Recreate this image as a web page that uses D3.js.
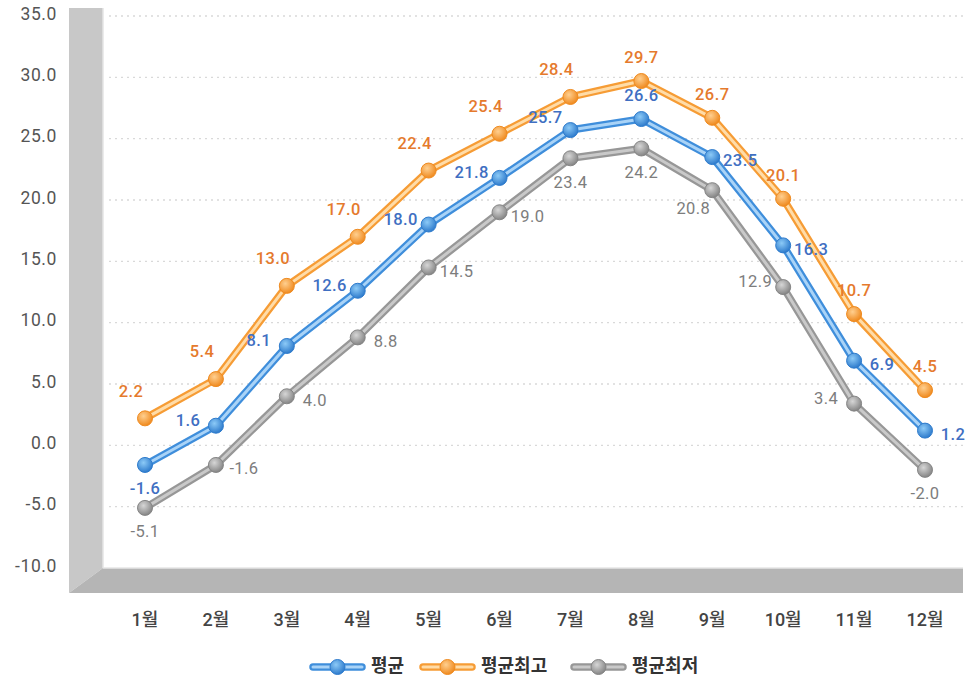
<!DOCTYPE html>
<html>
<head>
<meta charset="utf-8">
<script src="https://cdn.jsdelivr.net/npm/d3@7"></script>
<style>
  body { margin: 0; background: #fff; }
  svg { font-family: Roboto, "Noto Sans CJK KR", sans-serif; }
</style>
</head>
<body>
<div id="wrapper"></div>
<script>
// data
const months = ["1월", "2월", "3월", "4월", "5월", "6월", "7월", "8월", "9월", "10월", "11월", "12월"]
const avgTemp = [-1.6, 1.6, 8.1, 12.6, 18.0, 21.8, 25.7, 26.6, 23.5, 16.3, 6.9, 1.2]
const maxTemp = [2.2, 5.4, 13.0, 17.0, 22.4, 25.4, 28.4, 29.7, 26.7, 20.1, 10.7, 4.5]
const minTemp = [-5.1, -1.6, 4.0, 8.8, 14.5, 19.0, 23.4, 24.2, 20.8, 12.9, 3.4, -2.0]
const yTicks = [35, 30, 25, 20, 15, 10, 5, 0, -5, -10]
// where each value label sits relative to its point
const avgSide = ["b", "l", "l", "l", "l", "l", "lt", "t", "r", "r", "r", "r"]
const maxSide = ["tl", "tl", "tl", "tl", "tl", "tl", "tl", "t", "t", "t", "t", "t"]
const minSide = ["b", "r", "r", "r", "r", "r", "b", "b", "bl", "l", "l", "b"]

const series = [
    { name: "평균", values: avgTemp, side: avgSide, outer: "#3f8edb", inner: "#a9d3f7", c0: "#8ccaf7", c1: "#2e7bcc", label: "#3f6fc2", weight: 500 },
    { name: "평균최고", values: maxTemp, side: maxSide, outer: "#f69c35", inner: "#ffdca8", c0: "#ffcf8f", c1: "#ef8a1f", label: "#e57a2d", weight: 500 },
    { name: "평균최저", values: minTemp, side: minSide, outer: "#979797", inner: "#c9c9c9", c0: "#d6d6d6", c1: "#858585", label: "#7d7d7d", weight: 400 }
]

const offsets = {
    t: [0, -22], tl: [-14, -26], lt: [-25, -11], b: [0, 25],
    bl: [-19, 19], l: [-28, -4], r: [28, 5]
}

const width = 965, height = 681
const wallLeft = 69, plotLeft = 103, plotRight = 963, plotTop = 16, plotBottom = 568, floorBottom = 593

const svg = d3.select("#wrapper").append("svg")
    .attr("width", width)
    .attr("height", height)

const defs = svg.append("defs")
series.forEach((s, i) => {
    const g = defs.append("radialGradient").attr("id", "grad" + i)
        .attr("cx", "40%").attr("cy", "35%").attr("r", "65%")
    g.append("stop").attr("offset", "0%").attr("stop-color", s.c0)
    g.append("stop").attr("offset", "100%").attr("stop-color", s.c1)
})

const yScale = d3.scaleLinear().domain([-10, 35]).range([plotBottom, plotTop])
const xScale = d3.scalePoint().domain(months).range([145, 925])

// 3d wall and floor
svg.append("polygon")
    .attr("points", `${wallLeft},8 ${plotLeft},8 ${plotLeft},${plotBottom} ${wallLeft},${floorBottom}`)
    .attr("fill", "#c8c8c8")
svg.append("line")
    .attr("x1", plotLeft).attr("x2", plotLeft).attr("y1", 8).attr("y2", plotBottom)
    .attr("stroke", "#e4e4e4").attr("stroke-width", 1.5)
svg.append("polygon")
    .attr("points", `${wallLeft},${floorBottom} ${plotLeft},${plotBottom} ${plotRight},${plotBottom} ${plotRight},${floorBottom}`)
    .attr("fill", "#b5b5b5")
svg.append("line")
    .attr("x1", plotLeft).attr("x2", plotRight).attr("y1", plotBottom).attr("y2", plotBottom)
    .attr("stroke", "#e6e6e6").attr("stroke-width", 1.5)

// grid
svg.append("g").selectAll("line")
    .data(yTicks.filter(d => d > -10))
    .join("line")
    .attr("x1", plotLeft + 6).attr("x2", plotRight)
    .attr("y1", d => yScale(d)).attr("y2", d => yScale(d))
    .attr("stroke", "#d9d9d9")
    .attr("stroke-width", 1.3)
    .attr("stroke-dasharray", "2,4")

// y axis labels
svg.append("g").selectAll("text")
    .data(yTicks)
    .join("text")
    .attr("x", 57)
    .attr("y", d => yScale(d) - 1)
    .attr("text-anchor", "end")
    .attr("dominant-baseline", "middle")
    .attr("fill", "#555")
    .style("font-size", "17.5px")
    .style("letter-spacing", "0.6px")
    .text(d => d.toFixed(1))

// x axis labels
svg.append("g").selectAll("text")
    .data(months)
    .join("text")
    .attr("x", d => xScale(d))
    .attr("y", 621)
    .attr("text-anchor", "middle")
    .attr("dominant-baseline", "middle")
    .attr("fill", "#444")
    .style("font-size", "18px")
    .style("font-weight", 500)
    .text(d => d)

// lines
const line = d3.line()
    .x((d, i) => xScale(months[i]))
    .y(d => yScale(d))

const lineLayer = svg.append("g")
series.forEach((s, i) => {
    lineLayer.append("path")
        .attr("d", line(s.values))
        .attr("fill", "none")
        .attr("stroke", s.outer)
        .attr("stroke-width", 7.5)
        .attr("stroke-linejoin", "round")
    lineLayer.append("path")
        .attr("d", line(s.values))
        .attr("fill", "none")
        .attr("stroke", s.inner)
        .attr("stroke-width", 3)
        .attr("stroke-linejoin", "round")
})

// markers and value labels
series.forEach((s, i) => {
    const g = svg.append("g")
    g.selectAll("circle")
        .data(s.values)
        .join("circle")
        .attr("cx", (d, j) => xScale(months[j]))
        .attr("cy", d => yScale(d))
        .attr("r", 7.5)
        .attr("fill", `url(#grad${i})`)
        .attr("stroke", s.c1)
        .attr("stroke-width", 1)
    g.selectAll("text")
        .data(s.values)
        .join("text")
        .attr("x", (d, j) => xScale(months[j]) + offsets[s.side[j]][0])
        .attr("y", (d, j) => yScale(d) + offsets[s.side[j]][1])
        .attr("text-anchor", "middle")
        .attr("dominant-baseline", "middle")
        .attr("fill", s.label)
        .style("font-size", "16.5px")
        .style("letter-spacing", "0.4px")
        .style("font-weight", s.weight)
        .text(d => d.toFixed(1))
})

// legend
const legendX = [313, 423, 574]
const legend = svg.append("g")
series.forEach((s, i) => {
    const lg = legend.append("g").attr("transform", `translate(${legendX[i]}, 667)`)
    lg.append("line").attr("x1", 0).attr("x2", 49).attr("y1", 0).attr("y2", 0)
        .attr("stroke", s.outer).attr("stroke-width", 7.5).attr("stroke-linecap", "round")
    lg.append("line").attr("x1", 0).attr("x2", 49).attr("y1", 0).attr("y2", 0)
        .attr("stroke", s.inner).attr("stroke-width", 3).attr("stroke-linecap", "round")
    lg.append("circle").attr("cx", 24.5).attr("cy", 0).attr("r", 7.5)
        .attr("fill", `url(#grad${i})`).attr("stroke", s.c1)
    lg.append("text")
        .attr("x", 58).attr("y", 0)
        .attr("dominant-baseline", "middle")
        .attr("fill", "#333")
        .style("font-size", "18px")
        .style("font-weight", 600)
        .text(s.name)
})
</script>
</body>
</html>
